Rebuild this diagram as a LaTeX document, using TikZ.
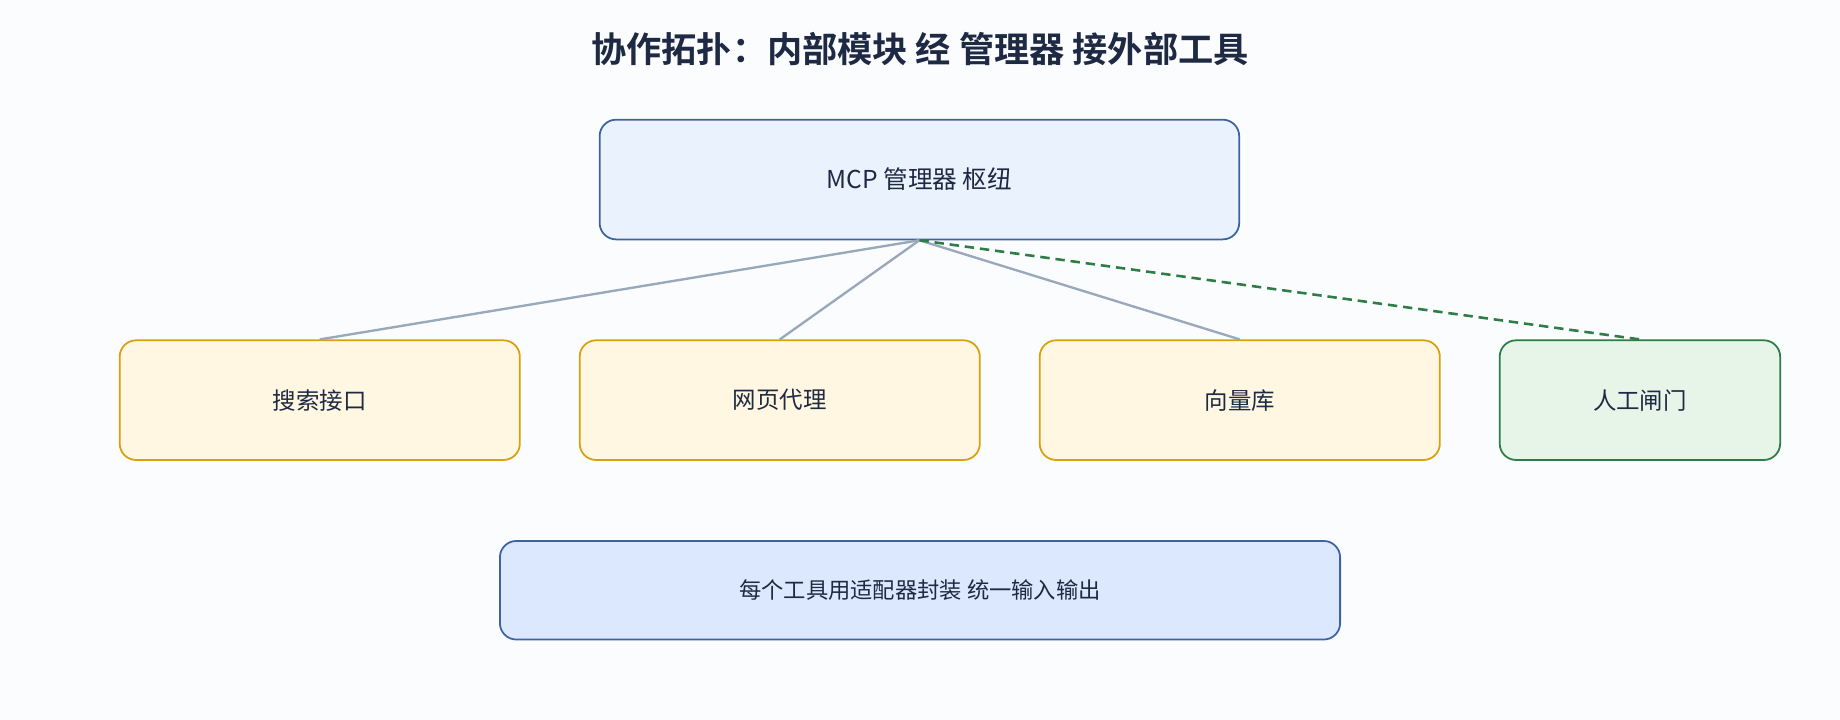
\documentclass[tikz,border=0pt]{standalone}
\usepackage{fontspec}
\setmainfont{Noto Sans CJK SC}
\newfontfamily\cjkb{Noto Sans CJK SC}[BoldFont={* Bold}]
\definecolor{bg}{HTML}{FBFCFE}
\definecolor{ink}{HTML}{1E2A44}
\definecolor{bstroke}{HTML}{3D64A0}
\definecolor{bfill}{HTML}{EAF2FD}
\definecolor{b2fill}{HTML}{DCE8FD}
\definecolor{ystroke}{HTML}{D9A010}
\definecolor{yfill}{HTML}{FFF7E1}
\definecolor{gstroke}{HTML}{2E7D46}
\definecolor{gfill}{HTML}{E7F4E8}
\definecolor{edge}{HTML}{9AA8BC}
\begin{document}
\begin{tikzpicture}[x=0.5pt,y=-0.5pt,
  box/.style={draw=bstroke,fill=bfill,line width=0.75pt,rounded corners=7pt,text=ink,font=\fontsize{10.5}{12}\selectfont},
  tool/.style={draw=ystroke,fill=yfill,line width=0.75pt,rounded corners=7pt,text=ink,font=\fontsize{10}{12}\selectfont},
  gate/.style={draw=gstroke,fill=gfill,line width=0.75pt,rounded corners=7pt,text=ink,font=\fontsize{10}{12}\selectfont},
  link/.style={draw=edge,line width=1pt}]
\fill[bg] (0,0) rectangle (1568,613.5);
\useasboundingbox (0,0) rectangle (1568,613.5);
\node[font=\cjkb\bfseries\fontsize{15}{18}\selectfont,text=ink] (title) at (784,42) {协作拓扑：内部模块 经 管理器 接外部工具};
\node[box,minimum width=272.5pt,minimum height=51pt] (hub) at (783.5,153) {MCP 管理器 枢纽};
\node[tool,minimum width=170.5pt,minimum height=51pt] (s) at (272.5,341) {搜索接口};
\node[tool,minimum width=170.5pt,minimum height=51pt] (w) at (664.5,341) {网页代理};
\node[tool,minimum width=170.5pt,minimum height=51pt] (v) at (1056.5,341) {向量库};
\node[gate,minimum width=119.5pt,minimum height=51pt] (h) at (1397.5,341) {人工闸门};
\node[box,fill=b2fill,minimum width=358pt,minimum height=42pt,font=\fontsize{9.5}{12}\selectfont] (note) at (784,503) {每个工具用适配器封装 统一输入输出};
\draw[link] (hub.south) -- (s.north);
\draw[link] (hub.south) -- (w.north);
\draw[link] (hub.south) -- (v.north);
\draw[draw=gstroke,line width=1.1pt,dash pattern=on 4pt off 2.5pt] (hub.south) -- (h.north);
\end{tikzpicture}
\end{document}
